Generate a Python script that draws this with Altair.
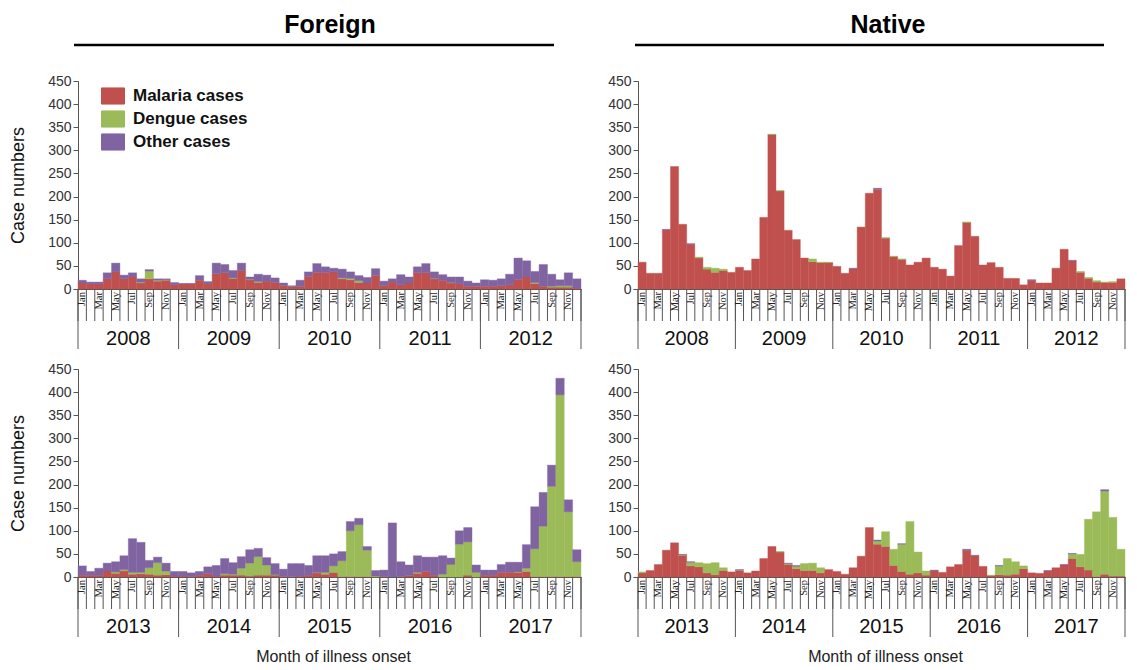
import altair as alt
import pandas as pd

MONTHS = ['Jan', 'Feb', 'Mar', 'Apr', 'May', 'Jun', 'Jul', 'Aug', 'Sep', 'Oct', 'Nov', 'Dec']
SERIES = ['Malaria cases', 'Dengue cases', 'Other cases']
COLORS = ['#C0504D', '#9BBB59', '#8064A2']
YEARS_TOP = ['2008', '2009', '2010', '2011', '2012']
YEARS_BOTTOM = ['2013', '2014', '2015', '2016', '2017']

# ---- Foreign, 2008-2012 ----
foreign_a_malaria = [13, 11, 11, 22, 37, 22, 26, 13, 22, 17, 19, 9,
                     11, 11, 19, 11, 33, 35, 23, 40, 20, 14, 17, 14,
                     8, 5, 6, 27, 36, 36, 37, 22, 20, 14, 13, 29,
                     7, 15, 9, 13, 35, 35, 22, 19, 13, 11, 6, 6,
                     6, 6, 7, 9, 20, 26, 12, 6, 4, 4, 4, 2]
foreign_a_dengue = [0, 0, 0, 0, 0, 0, 0, 2, 17, 2, 1, 0,
                    0, 0, 0, 0, 0, 0, 1, 0, 1, 2, 0, 0,
                    0, 0, 0, 0, 0, 0, 0, 2, 3, 4, 0, 0,
                    0, 0, 0, 0, 0, 0, 1, 0, 1, 0, 0, 0,
                    0, 0, 0, 0, 0, 0, 2, 0, 2, 3, 3, 0]
foreign_a_other = [6, 4, 4, 13, 19, 8, 9, 7, 3, 3, 2, 5,
                   1, 1, 10, 5, 23, 18, 16, 16, 5, 16, 13, 10,
                   5, 2, 13, 10, 19, 12, 8, 19, 14, 11, 12, 15,
                   10, 7, 22, 13, 13, 20, 14, 12, 12, 15, 11, 7,
                   14, 13, 15, 23, 47, 35, 24, 47, 26, 13, 28, 20]

# ---- Native, 2008-2012 ----
native_a_malaria = [58, 34, 34, 128, 265, 140, 97, 67, 43, 36, 40, 36,
                    47, 40, 65, 155, 334, 212, 127, 107, 67, 59, 57, 57,
                    49, 34, 44, 134, 207, 216, 110, 70, 64, 52, 58, 67,
                    47, 43, 28, 94, 144, 114, 52, 57, 47, 23, 23, 9,
                    19, 13, 13, 45, 86, 61, 36, 23, 15, 14, 14, 22]
native_a_dengue = [0, 0, 0, 0, 0, 0, 0, 2, 4, 9, 3, 0,
                   0, 0, 0, 0, 1, 1, 0, 0, 0, 6, 1, 1,
                   0, 0, 0, 0, 0, 0, 1, 1, 1, 0, 0, 0,
                   0, 0, 0, 0, 1, 0, 0, 0, 0, 0, 0, 0,
                   0, 0, 0, 0, 0, 0, 2, 2, 3, 1, 2, 0]
native_a_other = [0, 0, 0, 1, 0, 0, 1, 0, 0, 0, 0, 0,
                  0, 0, 0, 0, 0, 0, 0, 0, 0, 0, 0, 0,
                  0, 0, 1, 0, 0, 2, 0, 0, 0, 0, 0, 0,
                  0, 0, 0, 0, 0, 0, 0, 0, 0, 0, 0, 0,
                  1, 0, 0, 0, 0, 1, 0, 0, 0, 0, 0, 0]

# ---- Foreign, 2013-2017 ----
foreign_b_malaria = [4, 4, 4, 13, 8, 13, 6, 7, 6, 4, 5, 2,
                     2, 1, 4, 7, 2, 4, 4, 4, 2, 4, 4, 4,
                     1, 1, 2, 4, 9, 6, 10, 1, 1, 1, 1, 0,
                     1, 0, 1, 3, 8, 12, 4, 0, 0, 0, 4, 0,
                     4, 4, 10, 10, 10, 12, 1, 1, 1, 1, 1, 1]
foreign_b_dengue = [0, 0, 0, 0, 3, 3, 4, 3, 14, 27, 8, 0,
                    0, 0, 0, 0, 0, 3, 2, 15, 28, 40, 22, 1,
                    0, 0, 0, 0, 1, 4, 14, 34, 99, 112, 57, 2,
                    0, 0, 0, 0, 2, 0, 0, 6, 27, 71, 72, 10,
                    0, 0, 0, 0, 1, 7, 60, 109, 195, 393, 140, 32]
foreign_b_other = [20, 8, 15, 17, 22, 30, 73, 65, 16, 12, 17, 10,
                   10, 8, 8, 15, 23, 33, 25, 25, 29, 18, 16, 24,
                   16, 28, 27, 21, 36, 36, 26, 20, 20, 14, 8, 12,
                   14, 117, 32, 23, 36, 31, 39, 40, 14, 29, 31, 16,
                   11, 11, 17, 22, 21, 51, 91, 73, 46, 36, 26, 26]

# ---- Native, 2013-2017 ----
native_b_malaria = [9, 14, 27, 58, 74, 47, 24, 22, 9, 5, 14, 11,
                    14, 9, 13, 40, 66, 54, 27, 18, 14, 14, 9, 16,
                    12, 6, 20, 45, 107, 71, 66, 25, 12, 6, 9, 4,
                    14, 10, 22, 27, 58, 46, 23, 3, 5, 4, 6, 18,
                    9, 8, 13, 20, 26, 40, 22, 15, 1, 6, 2, 2]
native_b_dengue = [2, 0, 0, 0, 0, 1, 8, 9, 20, 26, 6, 0,
                   1, 0, 0, 0, 0, 1, 2, 5, 15, 16, 11, 0,
                   0, 0, 0, 0, 0, 7, 32, 35, 59, 114, 45, 9,
                   0, 0, 0, 0, 0, 0, 0, 1, 19, 36, 27, 6,
                   0, 0, 0, 0, 0, 10, 27, 110, 140, 180, 127, 58]
native_b_other = [0, 0, 0, 0, 0, 1, 1, 0, 0, 0, 0, 0,
                  1, 0, 0, 0, 0, 0, 1, 2, 0, 0, 0, 0,
                  0, 0, 0, 0, 0, 2, 0, 0, 1, 0, 0, 0,
                  1, 0, 0, 0, 2, 1, 0, 0, 1, 0, 0, 0,
                  0, 0, 1, 0, 1, 1, 0, 0, 0, 3, 0, 0]

H = 208
W_LEFT = 503
W_RIGHT = 487
XDOM = alt.Scale(domain=[0, 60], nice=False, zero=False)
FONT = 'Liberation Sans'


def long_df(mal, den, oth):
    rows = []
    for i in range(60):
        for k, arr in enumerate([mal, den, oth]):
            rows.append({'m': i, 'series': SERIES[k], 'ord': k, 'value': arr[i]})
    return pd.DataFrame(rows)


def panel(mal, den, oth, years, W, ytitle, show_legend, col_title, title_x,
          line_x, line_x2, xtitle):
    df = long_df(mal, den, oth)
    if show_legend:
        leg = alt.Legend(orient='none', legendX=23, legendY=3, title=None,
                         symbolType='M-1,-0.7L1,-0.7L1,0.7L-1,0.7Z', symbolSize=529,
                         symbolStrokeColor='#404040', symbolStrokeWidth=1,
                         labelFont=FONT, labelFontSize=17, labelFontWeight='bold',
                         labelColor='#111111', labelOffset=8, rowPadding=0, padding=0)
    else:
        leg = None
    yaxis = alt.Axis(values=list(range(0, 451, 50)), grid=False, tickSize=5,
                     labelFont=FONT, labelFontSize=14, labelColor='#333333',
                     labelPadding=2, tickColor='#555555', domainColor='#555555',
                     title=ytitle if ytitle else None, titleFont=FONT, titleFontSize=18,
                     titleFontWeight='normal', titleColor='#111111', titlePadding=20)
    bars = alt.Chart(df).transform_stack(
        stack='value', groupby=['m'], as_=['y0', 'y1'],
        sort=[alt.SortField('ord', order='ascending')]
    ).transform_filter('datum.value > 0').transform_calculate(
        m2='datum.m + 1'
    ).mark_bar(strokeWidth=0.4).encode(
        x=alt.X('m:Q', scale=XDOM,
                axis=alt.Axis(domain=True, domainColor='#555555', labels=False,
                              ticks=False, grid=False, title=None)),
        x2='m2:Q',
        y=alt.Y('y0:Q', scale=alt.Scale(domain=[0, 450], nice=False), axis=yaxis),
        y2='y1:Q',
        color=alt.Color('series:N', scale=alt.Scale(domain=SERIES, range=COLORS), legend=leg),
        stroke=alt.Stroke('series:N', scale=alt.Scale(domain=SERIES, range=COLORS), legend=None),
    )

    cells = alt.Chart(pd.DataFrame({'m': list(range(61))})).mark_rule(
        color='#555555', strokeWidth=1
    ).encode(x=alt.X('m:Q', scale=XDOM), y=alt.value(H), y2=alt.value(H + 32))

    seps = alt.Chart(pd.DataFrame({'k': list(range(6))})).transform_calculate(
        m='datum.k * 12'
    ).mark_rule(color='#555555', strokeWidth=1).encode(
        x=alt.X('m:Q', scale=XDOM), y=alt.value(H), y2=alt.value(H + 60))

    lab_df = pd.DataFrame({'m': list(range(0, 60, 2)),
                           'lab': [MONTHS[i % 12] for i in range(0, 60, 2)]})
    labels = alt.Chart(lab_df).transform_calculate(mc='datum.m + 0.5').mark_text(
        angle=270, align='right', baseline='middle', font='Liberation Serif',
        fontSize=10.5, color='#222222'
    ).encode(x=alt.X('mc:Q', scale=XDOM), y=alt.value(H + 3), text='lab:N')

    yr_df = pd.DataFrame({'k': list(range(5)), 'yr': years})
    yrs = alt.Chart(yr_df).transform_calculate(yc='datum.k * 12 + 6').mark_text(
        font=FONT, fontSize=20, color='#111111', baseline='middle', align='center'
    ).encode(x=alt.X('yc:Q', scale=XDOM), y=alt.value(H + 50), text='yr:N')

    layers = [bars, cells, seps, labels, yrs]
    if col_title:
        tdf = pd.DataFrame({'t': [col_title]})
        layers.append(alt.Chart(tdf).mark_text(
            font=FONT, fontSize=25, fontWeight='bold', color='#000000',
            baseline='middle', align='center'
        ).encode(text='t:N', x=alt.value(title_x), y=alt.value(-56)))
        layers.append(alt.Chart(tdf).mark_rule(strokeWidth=2.5, color='#000000').encode(
            x=alt.value(line_x), x2=alt.value(line_x2), y=alt.value(-36)))
    if xtitle:
        xdf = pd.DataFrame({'t': [xtitle]})
        layers.append(alt.Chart(xdf).mark_text(
            font=FONT, fontSize=16, color='#222222', baseline='middle', align='center'
        ).encode(text='t:N', x=alt.value(W / 2 + 4), y=alt.value(H + 80)))
    return alt.layer(*layers).properties(width=W, height=H)


tl = panel(foreign_a_malaria, foreign_a_dengue, foreign_a_other, YEARS_TOP, W_LEFT,
           'Case numbers', True, 'Foreign', 252, -4, 476, None)
tr = panel(native_a_malaria, native_a_dengue, native_a_other, YEARS_TOP, W_RIGHT,
           None, False, 'Native', 250, -3, 466, None)
bl = panel(foreign_b_malaria, foreign_b_dengue, foreign_b_other, YEARS_BOTTOM, W_LEFT,
           'Case numbers', False, None, 0, 0, 0, 'Month of illness onset')
br = panel(native_b_malaria, native_b_dengue, native_b_other, YEARS_BOTTOM, W_RIGHT,
           None, False, None, 0, 0, 0, 'Month of illness onset')

chart = alt.concat(
    tl, tr, bl, br, columns=2, spacing={'row': 80, 'column': 57}, bounds='flush'
).resolve_legend(
    color='independent', stroke='independent'
).properties(
    padding={'left': 1, 'top': 5, 'right': 2, 'bottom': 0}
).configure_view(stroke=None)

chart.save('out.html', embed_options={'renderer': 'svg', 'actions': False})
